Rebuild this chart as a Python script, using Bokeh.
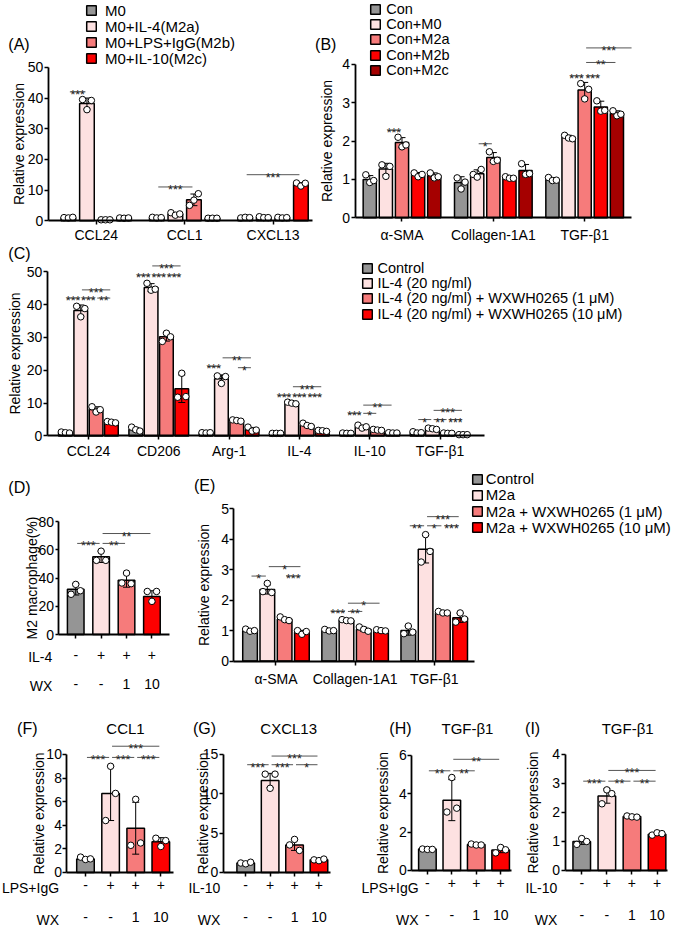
from bokeh.plotting import figure
from bokeh.models import Range1d, FixedTicker, LinearAxis, Label, Legend, LegendItem
from bokeh.embed import file_html
from bokeh.resources import INLINE
from bokeh.core.properties import value

FONT = "Liberation Sans"
GRAY = "#959595"; PINK = "#fde1e1"; SALMON = "#f67b7b"; RED = "#fd0000"; DARK = "#a50000"

# ---------------- data ----------------
# (A)
A_genes = ["CCL24", "CCL1", "CXCL13"]
A_series = ["M0", "M0+IL-4(M2a)", "M0+LPS+IgG(M2b)", "M0+IL-10(M2c)"]
A_mean = [[1.0, 1.0, 1.0], [38.2, 2.2, 1.1], [0.3, 6.8, 1.0], [0.9, 0.8, 11.9]]
A_sd = [[0.1, 0.15, 0.1], [1.8, 0.4, 0.2], [0.05, 1.9, 0.15], [0.1, 0.1, 0.5]]
A_pts = [[[1.0, 0.9, 1.1], [1.1, 0.9, 1.0], [0.9, 1.1, 1.0]],
         [[39.5, 36.2, 39.2], [2.6, 1.8, 2.2], [1.3, 1.0, 1.0]],
         [[0.3, 0.3, 0.3], [5.0, 6.7, 8.8], [1.1, 0.9, 1.0]],
         [[0.9, 0.8, 0.9], [0.8, 0.8, 0.8], [12.3, 11.3, 12.2]]]
A_sig = [(0, 0, 1, 42, "***"), (1, 0, 2, 11, "***"), (2, 0, 3, 15, "***")]

# (B)
B_genes = ["α-SMA", "Collagen-1A1", "TGF-β1"]
B_series = ["Con", "Con+M0", "Con+M2a", "Con+M2b", "Con+M2c"]
B_mean = [[1.0, 0.92, 1.0], [1.27, 1.15, 2.1], [1.96, 1.57, 3.33], [1.13, 1.05, 2.89], [1.1, 1.23, 2.72]]
B_sd = [[0.1, 0.15, 0.05], [0.15, 0.1, 0.05], [0.13, 0.13, 0.2], [0.05, 0.03, 0.15], [0.07, 0.16, 0.07]]
B_pts = [[[1.12, 0.92, 0.97], [1.04, 0.75, 0.93], [1.05, 0.97, 0.98]],
         [[1.38, 1.08, 1.34], [1.13, 1.06, 1.26], [2.15, 2.08, 2.06]],
         [[2.1, 1.85, 1.9], [1.72, 1.47, 1.5], [3.5, 3.1, 3.35]],
         [[1.17, 1.07, 1.13], [1.07, 1.03, 1.03], [3.05, 2.78, 2.8]],
         [[1.17, 1.04, 1.07], [1.41, 1.13, 1.15], [2.79, 2.66, 2.7]]]
B_sig = [(0, 1, 2, 2.28, "***"), (1, 1, 2, 1.93, "*"), (2, 1, 2, 3.7, "***"),
         (2, 2, 3, 3.7, "***"), (2, 2, 4, 4.05, "**"), (2, 2, 5, 4.43, "***")]

# (C)
C_genes = ["CCL24", "CD206", "Arg-1", "IL-4", "IL-10", "TGF-β1"]
C_series = ["Control", "IL-4 (20 ng/ml)", "IL-4 (20 ng/ml) + WXWH0265 (1 μM)", "IL-4 (20 ng/ml) + WXWH0265 (10 μM)"]
C_mean = [[1.0, 2.0, 1.0, 0.8, 0.85, 1.05],
          [38.2, 45.2, 17.4, 10.0, 2.8, 2.2],
          [8.1, 30.2, 4.7, 3.3, 1.8, 0.8],
          [4.2, 14.4, 2.0, 1.6, 0.95, 0.4]]
C_sd = [[0.15, 0.6, 0.1, 0.05, 0.05, 0.2],
        [1.7, 1.2, 1.2, 0.3, 0.45, 0.2],
        [0.8, 1.3, 0.2, 0.5, 0.15, 0.05],
        [0.2, 4.2, 0.6, 0.15, 0.05, 0.05]]
C_pts = [[[1.2, 1.0, 0.9], [2.7, 1.9, 1.5], [1.0, 0.9, 1.0], [0.8, 0.8, 0.8], [0.9, 0.8, 0.8], [1.3, 0.9, 1.0]],
         [[39.5, 36.3, 38.8], [46.5, 44.4, 44.7], [18.3, 16.0, 18.1], [10.3, 10.0, 9.8], [3.3, 2.4, 2.8], [2.4, 2.2, 2.0]],
         [[8.9, 7.3, 8.0], [28.8, 31.3, 30.2], [4.9, 4.7, 4.5], [3.9, 3.2, 2.9], [2.0, 1.8, 1.7], [0.9, 0.8, 0.8]],
         [[4.4, 4.2, 4.0], [11.8, 19.1, 12.0], [2.7, 1.5, 1.8], [1.7, 1.6, 1.4], [1.0, 0.9, 0.9], [0.4, 0.4, 0.4]]]
C_sig = [(0, 0, 1, 42, "***"), (0, 1, 2, 42, "***"), (0, 2, 3, 42, "**"), (0, 1, 3, 44.5, "***"),
         (1, 0, 1, 49, "***"), (1, 1, 2, 49, "***"), (1, 2, 3, 49, "***"), (1, 1, 3, 51.8, "***"),
         (2, 0, 1, 21.2, "***"), (2, 1, 3, 23.8, "**"), (2, 2, 3, 20.8, "*"),
         (3, 0, 1, 12.4, "***"), (3, 1, 2, 12.4, "***"), (3, 2, 3, 12.4, "***"), (3, 1, 3, 15.0, "***"),
         (4, 0, 1, 6.9, "***"), (4, 1, 2, 6.9, "*"), (4, 1, 3, 9.4, "**"),
         (5, 0, 1, 5.0, "*"), (5, 1, 2, 5.0, "**"), (5, 2, 3, 5.0, "***"), (5, 1, 3, 7.8, "***")]

# (D)
D_row1 = ["-", "+", "+", "+"]
D_row2 = ["-", "-", "1", "10"]
D_mean = [32.0, 55.0, 38.5, 27.0]
D_sd = [4.0, 4.0, 5.0, 4.0]
D_pts = [[28.5, 35.5, 31.0], [52.5, 59.0, 52.5], [36.5, 43.5, 36.0], [30.5, 23.5, 30.5]]
D_sig = [(0, 0, 1, 64.5, "***"), (0, 1, 2, 64.5, "**"), (0, 1, 3, 71.5, "**")]

# (E)
E_genes = ["α-SMA", "Collagen-1A1", "TGF-β1"]
E_series = ["Control", "M2a", "M2a + WXWH0265 (1 μM)", "M2a + WXWH0265 (10 μM)"]
E_mean = [[1.0, 1.0, 1.0], [2.35, 1.34, 3.67], [1.37, 1.04, 1.59], [0.95, 1.0, 1.42]]
E_sd = [[0.04, 0.03, 0.15], [0.15, 0.03, 0.45], [0.06, 0.07, 0.03], [0.06, 0.02, 0.15]]
E_pts = [[[1.05, 0.98, 1.0], [1.04, 0.99, 1.0], [0.9, 1.15, 0.95]],
         [[2.28, 2.55, 2.25], [1.36, 1.33, 1.32], [3.25, 4.15, 3.6]],
         [[1.45, 1.36, 1.33], [1.12, 1.04, 0.98], [1.63, 1.58, 1.58]],
         [[1.0, 0.88, 0.97], [1.03, 1.0, 0.99], [1.28, 1.58, 1.38]]]
E_sig = [(0, 0, 1, 2.79, "*"), (0, 1, 3, 3.1, "*"), (0, 2, 3, 2.79, "***"),
         (1, 0, 1, 1.63, "***"), (1, 1, 2, 1.63, "**"), (1, 1, 3, 1.9, "*"),
         (2, 0, 1, 4.44, "**"), (2, 1, 2, 4.44, "*"), (2, 2, 3, 4.44, "***"), (2, 1, 3, 4.74, "***")]

# (F)-(I)
F_mean = [1.15, 6.7, 3.75, 2.6]; F_sd = [0.1, 2.3, 2.2, 0.35]
F_pts = [[1.3, 1.1, 1.15], [4.4, 9.0, 6.7], [2.3, 6.2, 2.5], [2.9, 2.2, 2.7]]
F_sig = [(0, 0, 1, 9.75, "***"), (0, 1, 2, 9.75, "***"), (0, 2, 3, 9.75, "***"), (0, 1, 3, 10.7, "***")]
G_mean = [1.2, 11.7, 3.5, 1.6]; G_sd = [0.1, 0.9, 0.7, 0.1]
G_pts = [[1.2, 1.1, 1.3], [12.5, 10.7, 12.5], [3.5, 4.2, 2.8], [1.6, 1.5, 1.7]]
G_sig = [(0, 0, 1, 13.7, "***"), (0, 1, 2, 13.7, "***"), (0, 2, 3, 13.7, "*"), (0, 1, 3, 14.8, "***")]
H_mean = [1.12, 3.67, 1.35, 1.07]; H_sd = [0.03, 1.07, 0.05, 0.14]
H_pts = [[1.12, 1.1, 1.1], [3.05, 4.85, 3.25], [1.38, 1.33, 1.33], [0.92, 1.2, 1.08]]
H_sig = [(0, 0, 1, 5.2, "**"), (0, 1, 2, 5.2, "**"), (0, 1, 3, 5.8, "**")]
I_mean = [1.0, 2.57, 1.86, 1.25]; I_sd = [0.1, 0.25, 0.03, 0.04]
I_pts = [[0.9, 1.1, 1.0], [2.3, 2.78, 2.65], [1.88, 1.85, 1.84], [1.22, 1.3, 1.27]]
I_sig = [(0, 0, 1, 3.08, "***"), (0, 1, 2, 3.08, "**"), (0, 2, 3, 3.08, "**"), (0, 1, 3, 3.45, "***")]
WX_row = ["-", "-", "1", "10"]
PM_row = ["-", "+", "+", "+"]

# ---------------- one canvas; each panel gets its own ranges and axes ----------------
REF_W, REF_H = 692, 943
CW, CH = 676, 927
SX, SY = CW / REF_W, CH / REF_H

p = figure(width=CW, height=CH, x_range=Range1d(0, REF_W), y_range=Range1d(REF_H, 0),
           x_axis_type=None, y_axis_type=None, output_backend="svg", toolbar_location=None,
           min_border=0, min_border_left=0, min_border_right=0, min_border_top=0, min_border_bottom=0)
p.outline_line_color = None
p.background_fill_color = "white"
p.border_fill_color = "white"

AX = dict(axis_line_width=1.8, axis_line_color="black", major_tick_line_width=1.5,
          major_tick_line_color="black", major_tick_in=0, minor_tick_line_color=None,
          major_label_text_font=FONT, major_label_text_font_size="14px", major_label_text_color="black")


def make_panel(name, x0px, ppux, fl, fr, fb, ppuy):
    xn, yn = "x" + name, "y" + name
    p.extra_x_ranges[xn] = Range1d(-x0px / ppux, (REF_W - x0px) / ppux)
    p.extra_y_ranges[yn] = Range1d((fb - REF_H) / ppuy, fb / ppuy)
    return {"x_range_name": xn, "y_range_name": yn}, (fl - x0px) / ppux, (fr - x0px) / ppux


def axes(rn, xl, xr, fl, yticks, ybound, ylabel, ylab_c, ytw, xticks, xlabels, xst, ytick_out=4):
    ya = LinearAxis(**rn, **AX, fixed_location=xl, bounds=(0, ybound), ticker=FixedTicker(ticks=yticks),
                    major_tick_out=ytick_out, major_label_standoff=1, axis_label=ylabel,
                    axis_label_text_font=FONT, axis_label_text_font_size="14px",
                    axis_label_text_font_style="normal", axis_label_text_color="black",
                    axis_label_standoff=int(round(fl - ytick_out - 1 - ytw - (ylab_c + 8))))
    p.add_layout(ya, "left")
    xa = LinearAxis(**rn, **AX, fixed_location=0, bounds=(xl, xr), ticker=FixedTicker(ticks=xticks),
                    major_label_overrides={int(t): l for t, l in zip(xticks, xlabels)},
                    major_tick_out=4, major_label_standoff=xst)
    p.add_layout(xa, "below")


def second_row(rn, labels, st):
    ax2 = LinearAxis(**rn, fixed_location=0, ticker=FixedTicker(ticks=[0, 1, 2, 3]),
                     major_label_overrides={i: l for i, l in enumerate(labels)},
                     axis_line_color=None, major_tick_line_color=None, major_tick_out=0, major_tick_in=0,
                     minor_tick_line_color=None, major_label_standoff=st,
                     major_label_text_font=FONT, major_label_text_font_size="14px",
                     major_label_text_color="black")
    p.add_layout(ax2, "below")


def draw_bars(rn, xs, means, sds, pts, colors, bw, ptdx):
    r = p.vbar(x=xs, top=means, bottom=0, width=bw, fill_color=colors,
               line_color="black", line_width=1.5, **rn)
    lo = [m - e for m, e in zip(means, sds)]
    hi = [m + e for m, e in zip(means, sds)]
    p.segment(x0=xs, y0=lo, x1=xs, y1=hi, line_color="black", line_width=1, **rn)
    p.scatter(x=list(xs) + list(xs), y=lo + hi, marker="dash", size=7, line_color="black", line_width=1, **rn)
    qx, qy = [], []
    for x, reps in zip(xs, pts):
        for k, v in enumerate(reps):
            qx.append(x + (k - 1) * ptdx)
            qy.append(v)
    p.scatter(x=qx, y=qy, marker="circle", size=6.5, fill_color="white", line_color="black", line_width=1, **rn)
    return r


def grouped(rn, means, sds, pts, colors, sp, bw, ptdx):
    k = len(means)
    n = len(means[0])
    rends = []
    for s in range(k):
        xs = [g + (s - (k - 1) / 2) * sp for g in range(n)]
        rends.append(draw_bars(rn, xs, means[s], sds[s], pts[s], colors[s], bw, ptdx))
    return rends


def draw_sig(rn, sig, xpos, gap):
    x0, x1, ys, xm, txt = [], [], [], [], []
    for g, i, j, yv, t in sig:
        a = xpos(g, i) + gap
        b = xpos(g, j) - gap
        x0.append(a); x1.append(b); ys.append(yv); xm.append((a + b) / 2); txt.append(t)
    p.segment(x0=x0, y0=ys, x1=x1, y1=ys, line_color="#555555", line_width=1, **rn)
    p.text(x=xm, y=ys, text=txt, text_font=value(FONT), text_font_size="12.5px",
           text_align="center", text_baseline="alphabetic", y_offset=3, text_color="#222222", **rn)


def add_legend(rends, labels, left_px, centers, standoff, fs):
    # one single-item legend per row, so each row sits at the row position of the reference
    for r, l, c in zip(rends, labels, centers):
        lg = Legend(items=[LegendItem(label=l, renderers=[r])],
                    location=(left_px * SX, CH - (c * SY + 9)), orientation="vertical",
                    glyph_width=12, glyph_height=12, label_standoff=standoff, spacing=0,
                    padding=0, margin=0, border_line_color=None, background_fill_alpha=0,
                    label_text_font=FONT, label_text_font_size=fs, label_text_color="black",
                    label_height=12)
        p.add_layout(lg)


def text_label(x, y, t, align="left", size="16px"):
    p.add_layout(Label(x=x, y=y, text=t, text_align=align, text_baseline="middle",
                       text_font=FONT, text_font_size=size, text_color="black"))


# ---------------- (A) ----------------
rnA, xlA, xrA = make_panel("A", 98, 90.5, 49, 319, 224, 3.12)
spA, bwA = 19 / 90.5, 15 / 90.5
rA = grouped(rnA, A_mean, A_sd, A_pts, [GRAY, PINK, SALMON, RED], spA, bwA, 0.3 * bwA)
draw_sig(rnA, A_sig, lambda g, i: g + (i - 1.5) * spA, 1.5 / 90.5)
axes(rnA, xlA, xrA, 49, [0, 10, 20, 30, 40, 50], 50, "Relative expression", 22, 15.6, [0, 1, 2], A_genes, 2)
add_legend(rA, A_series, 87, [10, 26.3, 42.6, 59], 8, "15px")
text_label(8, 45, "(A)")

# ---------------- (B) ----------------
rnB, xlB, xrB = make_panel("B", 411, 93.5, 363, 646, 221, 39)
spB, bwB = 16.5 / 93.5, 13.5 / 93.5
rB = grouped(rnB, B_mean, B_sd, B_pts, [GRAY, PINK, SALMON, RED, DARK], spB, bwB, 0.3 * bwB)
draw_sig(rnB, B_sig, lambda g, i: g + (i - 2) * spB, 1.5 / 93.5)
axes(rnB, xlB, xrB, 363, [0, 1, 2, 3, 4], 4, "Relative expression", 337, 7.8, [0, 1, 2], B_genes, 5)
add_legend(rB, B_series, 378, [8, 23.5, 39, 54.5, 70], 5, "14.5px")
text_label(322, 45, "(B)")

# ---------------- (C) ----------------
rnC, xlC, xrC = make_panel("C", 90, 72, 48, 495, 443, 3.34)
spC, bwC = 15.7 / 72, 14 / 72
rC = grouped(rnC, C_mean, C_sd, C_pts, [GRAY, PINK, SALMON, RED], spC, bwC, 0.3 * bwC)
draw_sig(rnC, C_sig, lambda g, i: g + (i - 1.5) * spC, 1.2 / 72)
axes(rnC, xlC, xrC, 48, [0, 10, 20, 30, 40, 50], 50, "Relative expression", 18, 15.6,
     [0, 1, 2, 3, 4, 5], C_genes, 3)
add_legend(rC, C_series, 370, [271.5, 287, 302.5, 318], 4, "14.5px")
text_label(8, 257, "(C)")

# ---------------- (D) ----------------
rnD, xlD, xrD = make_panel("D", 77, 26, 59, 173, 645, 1.4375)
bwD = 17 / 26
draw_bars(rnD, [0, 1, 2, 3], D_mean, D_sd, D_pts, [GRAY, PINK, SALMON, RED], bwD, 0.28 * bwD)
draw_sig(rnD, D_sig, lambda g, i: i, 1.5 / 26)
axes(rnD, xlD, xrD, 59, [0, 20, 40, 60, 80], 80, "M2 macrophage(%)", 35, 15.6, [0, 1, 2, 3], D_row1, 11,
     ytick_out=3)
second_row(rnD, D_row2, 44)
text_label(53, 668, "IL-4", align="right", size="14px")
text_label(53, 697, "WX", align="right", size="14px")
text_label(8, 495, "(D)")

# ---------------- (E) ----------------
rnE, xlE, xrE = make_panel("E", 282, 81, 239, 485, 672, 31)
spE, bwE = 17.7 / 81, 15 / 81
rE = grouped(rnE, E_mean, E_sd, E_pts, [GRAY, PINK, SALMON, RED], spE, bwE, 0.3 * bwE)
draw_sig(rnE, E_sig, lambda g, i: g + (i - 1.5) * spE, 1.5 / 81)
axes(rnE, xlE, xrE, 239, [0, 1, 2, 3, 4, 5], 5, "Relative expression", 212, 7.8, [0, 1, 2], E_genes, 6)
add_legend(rE, E_series, 482, [486.5, 503, 519.5, 536], 3, "15px")
text_label(198, 493, "(E)")


# ---------------- (F)-(I) ----------------
def small_panel(name, x0px, ppux, fl, fr, fb, ppuy, yticks, ybound, means, sds, pts, sig,
                title, title_c, letter, letter_x, ylab_c, ytw, name1, name_right):
    rn, xl, xr = make_panel(name, x0px, ppux, fl, fr, fb, ppuy)
    bw = 18 / ppux
    draw_bars(rn, [0, 1, 2, 3], means, sds, pts, [GRAY, PINK, SALMON, RED], bw, 0.28 * bw)
    draw_sig(rn, sig, lambda g, i: i, 1.5 / ppux)
    axes(rn, xl, xr, fl, yticks, ybound, "Relative expression", ylab_c, ytw, [0, 1, 2, 3], PM_row, 4)
    second_row(rn, WX_row, 40)
    text_label(name_right, 903, name1, align="right", size="14px")
    text_label(name_right, 935, "WX", align="right", size="14px")
    text_label(letter_x, 741, letter)
    text_label(title_c, 741, title, align="center", size="15px")


small_panel("F", 87, 25.7, 68, 177, 887, 12, [0, 2, 4, 6, 8, 10], 10,
            F_mean, F_sd, F_pts, F_sig, "CCL1", 128, "(F)", 17, 43, 15.6, "LPS+IgG", 60)
small_panel("G", 251, 25, 228, 338, 887, 8, [0, 5, 10, 15], 15,
            G_mean, G_sd, G_pts, G_sig, "CXCL13", 295, "(G)", 197, 210, 15.6, "IL-10", 225)
small_panel("H", 437, 25, 421, 523, 885, 19.5, [0, 2, 4, 6], 6,
            H_mean, H_sd, H_pts, H_sig, "TGF-β1", 478, "(H)", 398, 395, 7.8, "LPS+IgG", 428)
small_panel("I", 595, 25.7, 578, 683, 885, 29.5, [0, 1, 2, 3, 4], 4,
            I_mean, I_sd, I_pts, I_sig, "TGF-β1", 642, "(I)", 537, 548, 7.8, "IL-10", 570)

open("out.html", "w").write(file_html(p, INLINE))
